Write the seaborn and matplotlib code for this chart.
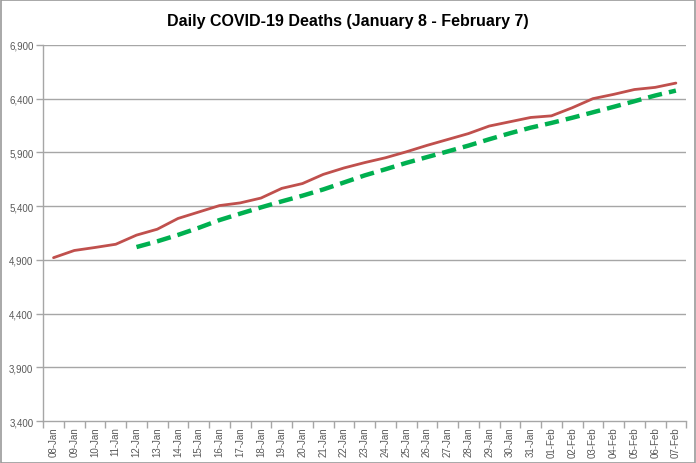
import matplotlib
matplotlib.use("Agg")
import matplotlib.pyplot as plt
import matplotlib.ticker as mticker
import seaborn as sns
import pandas as pd

dates = ["08-Jan", "09-Jan", "10-Jan", "11-Jan", "12-Jan", "13-Jan", "14-Jan", "15-Jan",
         "16-Jan", "17-Jan", "18-Jan", "19-Jan", "20-Jan", "21-Jan", "22-Jan", "23-Jan",
         "24-Jan", "25-Jan", "26-Jan", "27-Jan", "28-Jan", "29-Jan", "30-Jan", "31-Jan",
         "01-Feb", "02-Feb", "03-Feb", "04-Feb", "05-Feb", "06-Feb", "07-Feb"]
deaths = [4920, 4987, 5015, 5045, 5130, 5185, 5285, 5345, 5405, 5430, 5475, 5565,
          5610, 5695, 5755, 5805, 5850, 5905, 5965, 6020, 6075, 6145, 6185, 6225,
          6240, 6315, 6400, 6440, 6485, 6505, 6545]
avg_dates = dates[4:]
avg_deaths = [5019, 5072, 5132, 5198, 5270, 5330, 5388, 5444, 5497, 5555, 5620, 5686,
              5743, 5802, 5856, 5909, 5963, 6022, 6078, 6130, 6174, 6222, 6273, 6324,
              6376, 6429, 6475]
yticks = [3400, 3900, 4400, 4900, 5400, 5900, 6400, 6900]

df = pd.DataFrame({"pos": [dates.index(d) for d in dates], "value": deaths})
df_avg = pd.DataFrame({"pos": [dates.index(d) for d in avg_dates], "value": avg_deaths})

sns.set_theme(style="white")
plt.rcParams['font.family'] = ['Liberation Sans', 'DejaVu Sans']

fig = plt.figure(figsize=(6.96, 4.64), dpi=100)
ax = fig.add_axes([0.062, 0.0905, 0.924, 0.8105])

grid_c = "#a6a6a6"
for y in yticks[1:]:
    ax.axhline(y, color=grid_c, lw=1.0, zorder=0)

sns.lineplot(data=df, x="pos", y="value", ax=ax, color="#c0504d", lw=2.0,
             zorder=3)
sns.lineplot(data=df_avg, x="pos", y="value", ax=ax, color="#00b050", lw=3.2,
             zorder=4, dashes=False, linestyle=(0, (3.2, 1.6)))

ax.set_xlim(-0.5, len(dates) - 0.5)
ax.set_ylim(3400, 6900)
ax.set_yticks(yticks)
ax.yaxis.set_major_formatter(mticker.FuncFormatter(lambda v, p: f"{int(v):,}"))
ax.set_xticks(range(len(dates)))
ax.set_xticklabels(dates, rotation=90)
ax.xaxis.set_minor_locator(mticker.FixedLocator([i - 0.5 for i in range(len(dates) + 1)]))
ax.tick_params(axis="x", which="major", length=0, labelsize=7, colors="#595959", pad=4)
ax.tick_params(axis="x", which="minor", length=5, color=grid_c, width=1, direction="out", bottom=True)
ax.tick_params(axis="y", which="major", length=5, color=grid_c, width=1, direction="out",
               labelsize=7, labelcolor="#595959", left=True, pad=2)
ax.set_xlabel("")
ax.set_ylabel("")

for s in ["top", "right"]:
    ax.spines[s].set_visible(False)
for s in ["left", "bottom"]:
    ax.spines[s].set_color(grid_c)
    ax.spines[s].set_linewidth(1.0)

fig.suptitle("Daily COVID-19 Deaths (January 8 - February 7)", x=0.5, y=0.97,
             fontsize=11.5, fontweight="bold", color="#000000")

border = plt.Rectangle((0.001, 0.001), 0.997, 0.997, transform=fig.transFigure,
                       fill=False, edgecolor="#9a9a9a", lw=1.2)
fig.patches.append(border)

fig.savefig("out.png", dpi=100)
